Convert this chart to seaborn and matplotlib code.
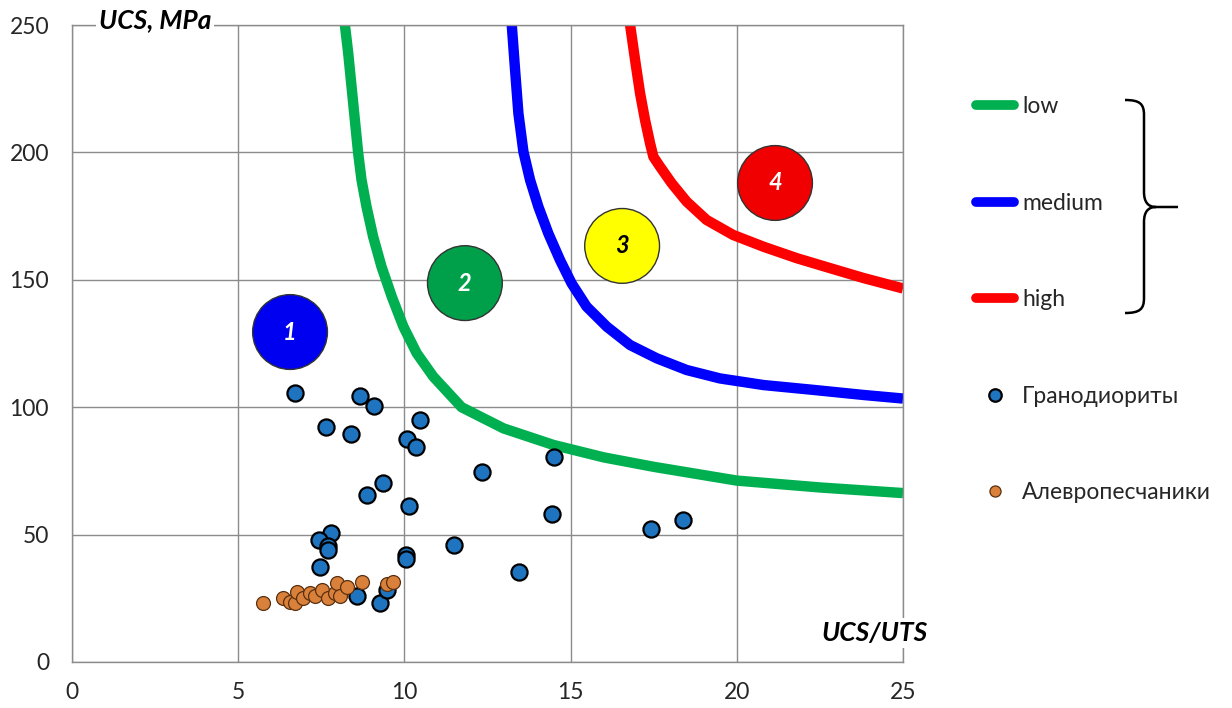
import matplotlib
matplotlib.use("Agg")
import matplotlib.pyplot as plt
import seaborn as sns
import pandas as pd
from matplotlib.lines import Line2D
from matplotlib.path import Path
from matplotlib.patches import PathPatch

# class boundaries (UCS/UTS, UCS)
low_x = [8.21, 8.31, 8.41, 8.51, 8.61, 8.71, 8.86, 9.06, 9.31, 9.62, 9.97, 10.37,
         10.87, 11.72, 12.98, 14.48, 16.0, 17.5, 20.0, 22.5, 25.0]
low_y = [250, 238.9, 225.8, 212.7, 199.6, 189.2, 178.7, 166.9, 155.2, 143.4, 131.6, 121.2,
         112.0, 100.0, 91.7, 85.2, 80.3, 76.6, 71.2, 68.5, 66.3]
med_x = [13.23, 13.33, 13.43, 13.58, 13.78, 14.03, 14.33, 14.68, 15.03, 15.48, 16.09,
         16.79, 17.59, 18.49, 19.49, 20.80, 22.30, 23.81, 25.0]
med_y = [250, 232.3, 215.3, 200.3, 189.2, 178.7, 168.2, 157.8, 148.6, 139.5, 131.6,
         124.4, 119.2, 114.6, 111.3, 108.7, 106.8, 104.8, 103.4]
high_x = [16.79, 16.94, 17.09, 17.24, 17.39, 17.49, 17.69, 18.04, 18.49, 19.09, 19.89,
          20.80, 21.80, 22.80, 23.81, 25.0]
high_y = [250, 236.3, 223.2, 212.7, 203.6, 198.3, 194.4, 187.9, 180.7, 173.5, 167.6,
          163.0, 158.5, 154.6, 150.7, 146.6]

# Гранодиориты
gd_x = [6.71, 8.66, 9.10, 10.47, 7.64, 8.38, 10.07, 10.35, 12.33, 14.51, 9.35, 8.86,
        10.13, 14.43, 18.37, 17.43, 7.80, 7.44, 7.69, 7.69, 11.50, 10.04, 10.04, 7.46,
        13.45, 8.56, 9.27, 9.49]
gd_y = [105.7, 104.5, 100.6, 95.0, 92.4, 89.4, 87.4, 84.5, 74.6, 80.3, 70.1, 65.5,
        61.2, 58.1, 55.7, 52.3, 50.5, 47.9, 45.6, 43.8, 46.0, 41.9, 40.3, 37.4,
        35.3, 25.9, 23.0, 28.3]

# Алевропесчаники
al_x = [5.74, 6.36, 6.56, 6.71, 6.76, 6.96, 7.16, 7.31, 7.51, 7.71, 7.91, 7.96,
        8.06, 8.26, 8.71, 9.47, 9.67]
al_y = [23.3, 25.0, 23.7, 23.3, 27.6, 25.0, 27.0, 25.9, 28.3, 25.0, 27.0, 30.9,
        25.9, 29.6, 31.5, 30.6, 31.5]

# numbered zones
zone_x = [6.56, 11.82, 16.55, 21.15]
zone_y = [129.5, 148.7, 163.3, 188.0]
zone_lbl = ["1", "2", "3", "4"]
zone_fill = ["#0000F0", "#00A04A", "#FFFF00", "#F00000"]
zone_txt = ["white", "white", "black", "white"]

sns.set_theme(style="white")
plt.rcParams["font.family"] = ["Lato", "Open Sans", "DejaVu Sans"]

W, H = 1232, 708
fig = plt.figure(figsize=(W / 100, H / 100), dpi=100)
ax = fig.add_axes([72 / W, 1 - 662 / H, (903 - 72) / W, (662 - 25) / H])

curves = [("low", low_x, low_y, "#00B050"), ("medium", med_x, med_y, "#0000FF"),
          ("high", high_x, high_y, "#FF0000")]
for name, xs, ys, col in curves:
    sns.lineplot(x=xs, y=ys, sort=False, estimator=None, color=col, lw=7.5,
                 ax=ax, solid_capstyle="butt", solid_joinstyle="round", zorder=2)

zones = pd.DataFrame({"x": zone_x, "y": zone_y, "z": zone_lbl})
sns.scatterplot(data=zones, x="x", y="y", hue="z", palette=dict(zip(zone_lbl, zone_fill)),
                s=2900, edgecolor="#333333", linewidth=1, legend=False, ax=ax, zorder=3)
for x, y, t, c in zip(zone_x, zone_y, zone_lbl, zone_txt):
    ax.text(x, y, t, ha="center", va="center", color=c, fontsize=17,
            fontweight="bold", fontstyle="italic", zorder=4)

sns.scatterplot(x=gd_x, y=gd_y, s=135, color="#1F74C0", edgecolor="black",
                linewidth=1.6, ax=ax, zorder=5)
sns.scatterplot(x=al_x, y=al_y, s=100, color="#D9813A", edgecolor="#5A3010",
                linewidth=0.9, ax=ax, zorder=6)

ax.set_xlim(0, 25)
ax.set_ylim(0, 250)
ax.set_xticks(range(0, 26, 5))
ax.set_yticks(range(0, 251, 50))
ax.grid(True, color="#8C8C8C", lw=1)
for s in ax.spines.values():
    s.set_color("#8C8C8C")
    s.set_linewidth(1)
ax.tick_params(axis="both", which="both", direction="out", length=6.5, width=1,
               color="#8C8C8C", labelsize=16.5, labelcolor="#262626")
ax.tick_params(axis="y", pad=10)
ax.tick_params(axis="x", pad=8)
ax.set_xlabel("")
ax.set_ylabel("")

ax.text(2.5, 252, "UCS, MPa", ha="center", va="center", fontsize=19,
        fontweight="bold", fontstyle="italic", color="black", clip_on=False,
        bbox=dict(facecolor="white", edgecolor="none", pad=2), zorder=7)
ax.text(24.15, 11.4, "UCS/UTS", ha="center", va="center", fontsize=19,
        fontweight="bold", fontstyle="italic", color="black", clip_on=False,
        bbox=dict(facecolor="white", edgecolor="none", pad=2), zorder=7)

handles = [Line2D([], [], color="#00B050", lw=7, solid_capstyle="round"),
           Line2D([], [], color="#0000FF", lw=7, solid_capstyle="round"),
           Line2D([], [], color="#FF0000", lw=7, solid_capstyle="round"),
           Line2D([], [], ls="", marker="o", ms=9, mfc="#1F74C0", mec="black", mew=1.6),
           Line2D([], [], ls="", marker="o", ms=8, mfc="#D9813A", mec="#5A3010", mew=0.9)]
labels = ["low", "medium", "high", "Гранодиориты", "Алевропесчаники"]
fig.legend(handles, labels, loc="upper left", bbox_to_anchor=(976 / W, 1 - 96 / H),
           frameon=False, fontsize=16.5, handlelength=1.66, handletextpad=0.35,
           labelspacing=3.3, borderpad=0, borderaxespad=0)

def fp(x, y):
    return (x / W, 1 - y / H)

verts = [fp(1125, 100), fp(1140, 100), fp(1144, 104), fp(1144, 115),
         fp(1144, 192), fp(1144, 202), fp(1148, 207), fp(1156, 207),
         fp(1178, 207),
         fp(1125, 313), fp(1140, 313), fp(1144, 309), fp(1144, 298),
         fp(1144, 222), fp(1144, 212), fp(1148, 207), fp(1156, 207)]
codes = [Path.MOVETO, Path.CURVE4, Path.CURVE4, Path.CURVE4,
         Path.LINETO, Path.CURVE4, Path.CURVE4, Path.CURVE4,
         Path.LINETO,
         Path.MOVETO, Path.CURVE4, Path.CURVE4, Path.CURVE4,
         Path.LINETO, Path.CURVE4, Path.CURVE4, Path.CURVE4]
fig.patches.append(PathPatch(Path(verts, codes), transform=fig.transFigure,
                             fill=False, lw=1.8, color="black"))

fig.savefig("out.png", dpi=100)
